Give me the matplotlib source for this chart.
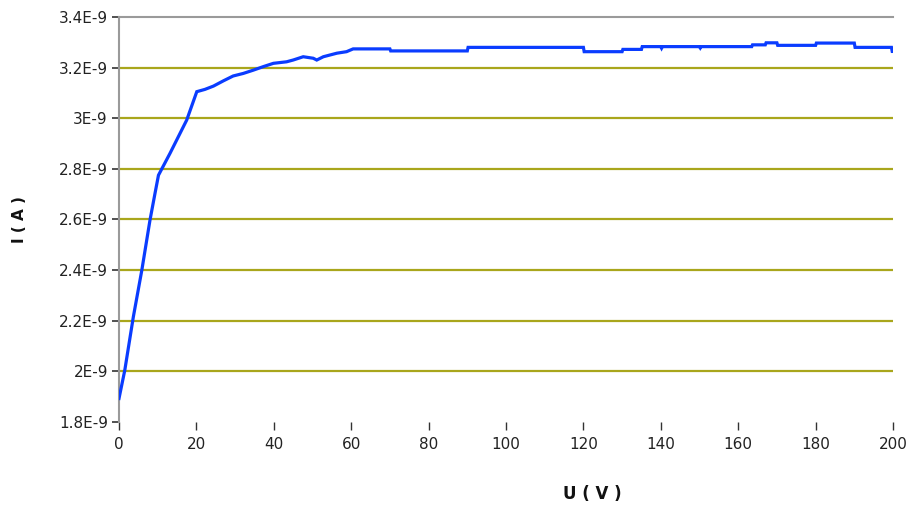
import matplotlib
matplotlib.use("Agg")
import matplotlib.pyplot as plt

# Current-voltage characteristic: voltage (V) and current (A)
voltage = [0, 1.5, 3.7, 5.9, 8.0, 9.3, 10.2, 13.2, 17.5, 20.1, 22.2, 24.4, 27.0,
           29.5, 32.1, 34.7, 37.3, 39.9, 43.3, 45.0, 47.6, 50.2, 51.1, 52.8,
           56.3, 58.8, 60.5, 70.0, 70.2, 90.0, 90.2, 120.0, 120.2, 130.0, 130.2,
           135.0, 135.2, 140.0, 140.2, 140.4, 150.0, 150.2, 150.4, 163.5, 163.7,
           167.0, 167.2, 170.0, 170.2, 180.0, 180.2, 190.0, 190.2, 199.6, 199.8,
           200.0]
current = [1.893, 2.005, 2.215, 2.400, 2.597, 2.703, 2.775, 2.862, 2.993, 3.105,
           3.114, 3.127, 3.148, 3.167, 3.177, 3.190, 3.204, 3.217, 3.223, 3.230,
           3.243, 3.237, 3.230, 3.243, 3.257, 3.263, 3.274, 3.274, 3.266, 3.266,
           3.280, 3.280, 3.263, 3.263, 3.272, 3.272, 3.283, 3.283, 3.277, 3.283,
           3.283, 3.278, 3.283, 3.283, 3.290, 3.290, 3.298, 3.298, 3.288, 3.288,
           3.297, 3.297, 3.280, 3.280, 3.264, 3.264]
current = [c * 1e-9 for c in current]

x_ticks = [0, 20, 40, 60, 80, 100, 120, 140, 160, 180, 200]
y_ticks = [1.8e-9, 2.0e-9, 2.2e-9, 2.4e-9, 2.6e-9, 2.8e-9, 3.0e-9, 3.2e-9, 3.4e-9]
y_tick_labels = ["1.8E-9", "2E-9", "2.2E-9", "2.4E-9", "2.6E-9", "2.8E-9",
                 "3E-9", "3.2E-9", "3.4E-9"]

plt.rcParams["font.family"] = ["DejaVu Sans"]

fig = plt.figure(figsize=(9.12, 5.08), dpi=100)
ax = fig.add_axes([119 / 912, 1 - 422 / 508, 774 / 912, 405 / 508])

# Olive horizontal grid lines (inner ticks only)
for yv in y_ticks[1:-1]:
    ax.axhline(yv, color="#a9a61c", lw=1.6, zorder=1)

ax.plot(voltage, current, color="#0a3cff", lw=2.3, zorder=3,
        solid_joinstyle="miter")

ax.set_xlim(0, 200)
ax.set_ylim(1.8e-9, 3.4e-9)
ax.set_xticks(x_ticks)
ax.set_xticklabels([str(v) for v in x_ticks])
ax.set_yticks(y_ticks)
ax.set_yticklabels(y_tick_labels)

for side in ("right", "bottom"):
    ax.spines[side].set_visible(False)
for side in ("left", "top"):
    ax.spines[side].set_color("#9a9a9a")
    ax.spines[side].set_linewidth(1.5)

ax.tick_params(axis="y", length=5, width=1.2, color="#333333", pad=3,
               labelsize=11, labelcolor="#222222")
ax.tick_params(axis="x", length=6, width=1, color="#333333", pad=5,
               labelsize=11, labelcolor="#222222")

ax.set_xlabel("U ( V )", fontsize=12, fontweight="bold", color="#111111")
ax.xaxis.set_label_coords(0.612, -0.155)
ax.set_ylabel("I ( A )", fontsize=11, fontweight="bold", color="#111111")
ax.yaxis.set_label_coords(-0.119, 0.5)

fig.savefig("out.png", dpi=100, facecolor="white")
